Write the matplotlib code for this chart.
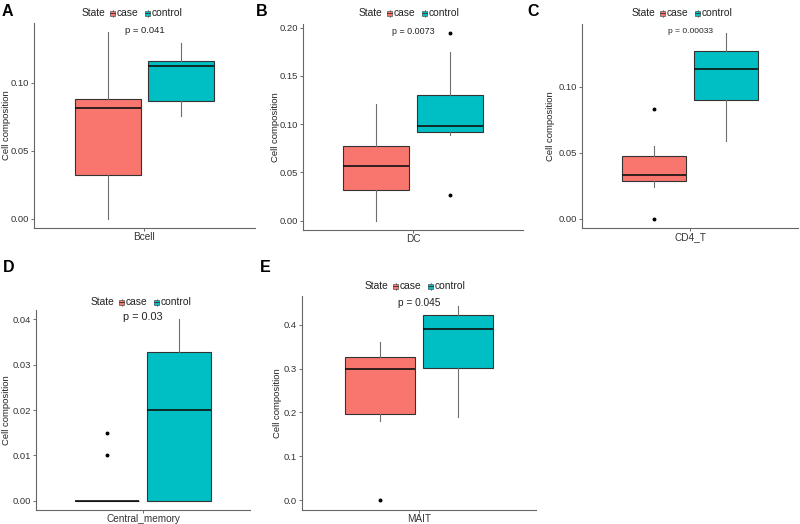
import matplotlib
matplotlib.use('Agg')
import matplotlib.pyplot as plt
from matplotlib.patches import Rectangle
from matplotlib.lines import Line2D
import matplotlib.transforms as mtransforms

plt.rcParams['font.family'] = ['Liberation Sans', 'DejaVu Sans']

cells = ['Bcell', 'DC', 'CD4_T', 'Central_memory', 'MAIT']
panel_labels = ['A', 'B', 'C', 'D', 'E']
p_values = ['p = 0.041', 'p = 0.0073', 'p = 0.00033', 'p = 0.03', 'p = 0.045']

# box stats: whisker low, q1, median, q3, whisker high, outliers
case_whislo = [0.0, 0.0, 0.024, 0.0, 0.180]
case_q1 = [0.0324, 0.0314, 0.0289, 0.0, 0.1962]
case_med = [0.081, 0.0563, 0.0334, 0.0, 0.2988]
case_q3 = [0.0878, 0.077, 0.0478, 0.0, 0.3253]
case_whishi = [0.137, 0.1207, 0.0551, 0.0, 0.3607]
case_fliers = [[], [], [0.0, 0.083], [0.01, 0.015], [0.0]]

control_whislo = [0.0756, 0.0887, 0.059, 0.0, 0.190]
control_q1 = [0.0866, 0.0921, 0.0898, 0.0, 0.3018]
control_med = [0.112, 0.0976, 0.1131, 0.02, 0.3894]
control_q3 = [0.1157, 0.130, 0.1268, 0.0327, 0.4227]
control_whishi = [0.1293, 0.1748, 0.1405, 0.04, 0.443]
control_fliers = [[], [0.0266, 0.194], [], [], []]

y_ticks = [
    [0.0, 0.05, 0.10],
    [0.0, 0.05, 0.10, 0.15, 0.20],
    [0.0, 0.05, 0.10],
    [0.0, 0.01, 0.02, 0.03, 0.04],
    [0.0, 0.1, 0.2, 0.3, 0.4],
]
y_fmt = ['%.2f', '%.2f', '%.2f', '%.2f', '%.1f']

case_col = '#F8766D'
ctrl_col = '#00BFC4'

W, H = 800, 524
fig = plt.figure(figsize=(8, 5.24), dpi=100)

# axes boxes in pixels: left, top, right, bottom
boxes = [
    (34, 23, 255, 228),
    (303, 24, 523, 230),
    (582, 24, 798, 228),
    (36, 310, 250, 510),
    (302, 296, 536, 510),
]
label_pos = [(2, 12), (256, 12), (527, 12), (3, 268), (260, 268)]
legend_pos = [(82, 13), (359, 13), (632, 13), (91, 302), (365, 286)]
ylab_off = [-23, -23, -27, -25, -20]  # px left of the spine
p_size = [6.8, 6.4, 6.0, 7.8, 7.3]


def px(x, y):
    return x / W, 1 - y / H


def draw_legend(x0, y0):
    fs = 7.4
    fig.text(*px(x0, y0), 'State', fontsize=fs, color='#222222', va='center', ha='left')
    for off, col, name in [(28, case_col, 'case'), (63, ctrl_col, 'control')]:
        kx = x0 + off
        fig.add_artist(Rectangle(px(kx, y0 + 2.5), 5 / W, 5 / H, transform=fig.transFigure,
                                 facecolor=col, edgecolor='#555555', lw=0.5))
        fig.add_artist(Line2D([kx / W, (kx + 5) / W], [1 - y0 / H] * 2,
                              transform=fig.transFigure, color='#333333', lw=0.6))
        fig.add_artist(Line2D([(kx + 2.5) / W] * 2, [1 - (y0 + 3.5) / H, 1 - (y0 + 2.5) / H],
                              transform=fig.transFigure, color='#555555', lw=0.5))
        fig.add_artist(Line2D([(kx + 2.5) / W] * 2, [1 - (y0 - 2.5) / H, 1 - (y0 - 3.5) / H],
                              transform=fig.transFigure, color='#555555', lw=0.5))
        fig.text(*px(kx + 7, y0), name, fontsize=fs, color='#222222', va='center', ha='left')


for i in range(5):
    l, t, r, b = boxes[i]
    ax = fig.add_axes([l / W, 1 - b / H, (r - l) / W, (b - t) / H])

    stats = [
        dict(whislo=case_whislo[i], q1=case_q1[i], med=case_med[i], q3=case_q3[i],
             whishi=case_whishi[i], fliers=case_fliers[i]),
        dict(whislo=control_whislo[i], q1=control_q1[i], med=control_med[i], q3=control_q3[i],
             whishi=control_whishi[i], fliers=control_fliers[i]),
    ]
    bp = ax.bxp(stats, positions=[0.8, 1.2], widths=0.36, patch_artist=True,
                showcaps=False,
                boxprops=dict(edgecolor='#333333', linewidth=0.8),
                whiskerprops=dict(color='#6e6e6e', linewidth=0.8),
                medianprops=dict(color='#111111', linewidth=1.2),
                flierprops=dict(marker='o', markersize=1.8, markerfacecolor='black',
                                markeredgecolor='black'))
    for patch, col in zip(bp['boxes'], [case_col, ctrl_col]):
        patch.set_facecolor(col)

    vals = []
    for s in stats:
        vals += [s['whislo'], s['whishi']] + list(s['fliers'])
    lo, hi = min(vals), max(vals)
    pad = (hi - lo) * 0.05
    ax.set_ylim(lo - pad, hi + pad)
    ax.set_xlim(0.4, 1.6)

    ax.set_xticks([1.0])
    ax.set_xticklabels([cells[i]])
    ax.set_yticks(y_ticks[i])
    ax.set_yticklabels([y_fmt[i] % v for v in y_ticks[i]])
    ax.tick_params(axis='y', labelsize=6.8, colors='#555555', labelcolor='#333333',
                   length=2, width=0.6, pad=1.5)
    ax.tick_params(axis='x', labelsize=7.2, colors='#555555', labelcolor='#333333',
                   length=2, width=0.6, pad=0.8)
    ax.set_ylabel('Cell composition', fontsize=6.8, color='#222222')
    ax.yaxis.set_label_coords(ylab_off[i] / (r - l), 0.5)

    for sp in ['top', 'right']:
        ax.spines[sp].set_visible(False)
    for sp in ['left', 'bottom']:
        ax.spines[sp].set_color('#666666')
        ax.spines[sp].set_linewidth(0.8)

    trans = mtransforms.blended_transform_factory(ax.transData, ax.transAxes)
    ax.text(1.0, 0.965, p_values[i], transform=trans, ha='center', va='center',
            fontsize=p_size[i], color='#222222')

    lx, ly = label_pos[i]
    fig.text(*px(lx, ly), panel_labels[i], fontsize=11.5, fontweight='bold',
             va='center', ha='left', color='black')
    draw_legend(*legend_pos[i])

fig.savefig('out.png', dpi=100)
